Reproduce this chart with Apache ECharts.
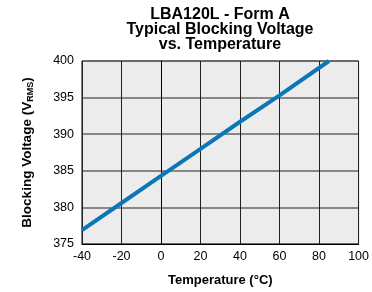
<!DOCTYPE html>
<html>
<head>
<meta charset="utf-8">
<script src="https://cdn.jsdelivr.net/npm/echarts@6/dist/echarts.min.js"></script>
<style>
  html, body { margin: 0; padding: 0; background: #fff; }
  #main { width: 372px; height: 292px; }
</style>
</head>
<body>
<div id="main"></div>
<script>
// data
var temperature = [-40, -20, 0, 20, 40, 60, 85];
var blockingVoltage = [376.9, 380.6, 384.3, 388.0, 391.7, 395.3, 400.0];
var xTicks = [-40, -20, 0, 20, 40, 60, 80, 100];
var yTicks = [375, 380, 385, 390, 395, 400];

var chart = echarts.init(document.getElementById('main'));

var font = '"Liberation Sans", Arial, sans-serif';

var option = {
  animation: false,
  title: {
    text: 'LBA120L - Form A\nTypical Blocking Voltage\nvs. Temperature',
    left: 215,
    top: 2,
    textAlign: 'center',
    textStyle: {
      fontFamily: font,
      fontSize: 16,
      fontWeight: 'bold',
      color: '#000',
      lineHeight: 15
    }
  },
  grid: {
    left: 82,
    right: 13,
    top: 61,
    bottom: 47,
    show: true,
    backgroundColor: '#ececec',
    borderColor: '#000',
    borderWidth: 1
  },
  xAxis: {
    type: 'value',
    min: xTicks[0],
    max: xTicks[xTicks.length - 1],
    interval: 20,
    name: 'Temperature (°C)',
    nameLocation: 'middle',
    nameGap: 30,
    nameTextStyle: { fontFamily: font, fontSize: 13, fontWeight: 'bold', color: '#000' },
    axisLine: { lineStyle: { color: '#000' } },
    axisTick: { show: false },
    axisLabel: { fontFamily: font, fontSize: 12.5, color: '#000', margin: 6 },
    splitLine: { lineStyle: { color: '#222', width: 1 } }
  },
  yAxis: {
    type: 'value',
    min: yTicks[0],
    max: yTicks[yTicks.length - 1],
    interval: 5,
    name: '{a|Blocking Voltage (V}{b|RMS}{a|)}',
    nameLocation: 'middle',
    nameRotate: 90,
    nameGap: 47,
    nameTextStyle: {
      rich: {
        a: { fontFamily: font, fontSize: 13.5, fontWeight: 'bold', color: '#000' },
        b: { fontFamily: font, fontSize: 9, fontWeight: 'bold', color: '#000', padding: [7, 0, 0, 0] }
      }
    },
    axisLine: { show: true, lineStyle: { color: '#000' } },
    axisTick: { show: false },
    axisLabel: { fontFamily: font, fontSize: 12.5, color: '#000', margin: 8 },
    splitLine: { lineStyle: { color: '#666', width: 1.5 } }
  },
  series: [{
    type: 'line',
    data: temperature.map(function (t, i) { return [t, blockingVoltage[i]]; }),
    showSymbol: false,
    lineStyle: { color: '#0b77b6', width: 4 }
  }]
};

chart.setOption(option);
</script>
</body>
</html>
